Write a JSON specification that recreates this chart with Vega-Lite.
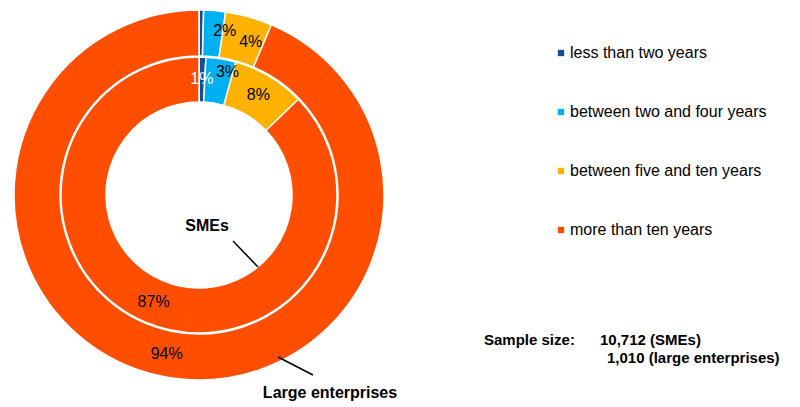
{
  "$schema": "https://vega.github.io/schema/vega-lite/v6.json",
  "width": 388,
  "height": 380,
  "padding": 5,
  "background": "white",
  "config": {"view": {"stroke": null}, "font": "Liberation Sans", "text": {"font": "Liberation Sans"}},
  "data": {
    "values": [
      {"group": "Large enterprises", "category": "less than two years", "ord": 1, "value": 0.4, "label": ""},
      {"group": "Large enterprises", "category": "between two and four years", "ord": 2, "value": 1.9, "label": "2%"},
      {"group": "Large enterprises", "category": "between five and ten years", "ord": 3, "value": 4.1, "label": "4%"},
      {"group": "Large enterprises", "category": "more than ten years", "ord": 4, "value": 93.6, "label": "94%"},
      {"group": "SMEs", "category": "less than two years", "ord": 1, "value": 0.8, "label": "1%"},
      {"group": "SMEs", "category": "between two and four years", "ord": 2, "value": 3.5, "label": "3%"},
      {"group": "SMEs", "category": "between five and ten years", "ord": 3, "value": 8.5, "label": "8%"},
      {"group": "SMEs", "category": "more than ten years", "ord": 4, "value": 87.2, "label": "87%"}
    ]
  },
  "layer": [
    {
      "transform": [{"filter": "datum.group === 'Large enterprises'"}],
      "mark": {"type": "arc", "innerRadius": 139, "outerRadius": 185, "stroke": "white", "strokeWidth": 1.5},
      "encoding": {
        "theta": {"field": "value", "type": "quantitative", "stack": true},
        "order": {"field": "ord", "type": "quantitative"},
        "color": {
          "field": "category", "type": "nominal",
          "scale": {
            "domain": ["less than two years", "between two and four years", "between five and ten years", "more than ten years"],
            "range": ["#0E4F9C", "#00B0F0", "#FFB300", "#FF4E00"]
          },
          "legend": {
            "title": null, "orient": "none", "legendX": 548, "legendY": 40, "padding": 0,
            "symbolType": "square", "symbolSize": 40, "symbolStrokeWidth": 0,
            "labelFontSize": 16, "labelFont": "Liberation Sans", "labelColor": "#000000",
            "labelOffset": 1, "rowPadding": 43, "labelLimit": 400
          }
        }
      }
    },
    {
      "transform": [{"filter": "datum.group === 'SMEs'"}],
      "mark": {"type": "arc", "innerRadius": 93, "outerRadius": 138, "stroke": "white", "strokeWidth": 1.5},
      "encoding": {
        "theta": {"field": "value", "type": "quantitative", "stack": true},
        "order": {"field": "ord", "type": "quantitative"},
        "color": {"field": "category", "type": "nominal"}
      }
    },
    {
      "transform": [{"filter": "datum.group === 'Large enterprises'"}],
      "mark": {"type": "text", "radius": 162, "fontSize": 16, "align": "center", "baseline": "middle"},
      "encoding": {
        "theta": {"field": "value", "type": "quantitative", "stack": true},
        "order": {"field": "ord", "type": "quantitative"},
        "text": {"condition": {"test": "datum.label === '94%'", "field": "label"}, "value": ""},
        "color": {"value": "#000000"}
      }
    },
    {
      "transform": [{"filter": "datum.group === 'Large enterprises'"}],
      "mark": {"type": "text", "radius": 162, "fontSize": 16, "align": "center", "baseline": "middle", "dx": 12, "dy": -3},
      "encoding": {
        "theta": {"field": "value", "type": "quantitative", "stack": true},
        "order": {"field": "ord", "type": "quantitative"},
        "text": {"condition": {"test": "datum.label === '2%'", "field": "label"}, "value": ""},
        "color": {"value": "#000000"}
      }
    },
    {
      "transform": [{"filter": "datum.group === 'Large enterprises'"}],
      "mark": {"type": "text", "radius": 162, "fontSize": 16, "align": "center", "baseline": "middle", "dx": 8, "dy": 3},
      "encoding": {
        "theta": {"field": "value", "type": "quantitative", "stack": true},
        "order": {"field": "ord", "type": "quantitative"},
        "text": {"condition": {"test": "datum.label === '4%'", "field": "label"}, "value": ""},
        "color": {"value": "#000000"}
      }
    },
    {
      "transform": [{"filter": "datum.group === 'SMEs'"}],
      "mark": {"type": "text", "radius": 116, "fontSize": 16, "align": "center", "baseline": "middle"},
      "encoding": {
        "theta": {"field": "value", "type": "quantitative", "stack": true},
        "order": {"field": "ord", "type": "quantitative"},
        "text": {"condition": {"test": "datum.label !== '3%'", "field": "label"}, "value": ""},
        "color": {"condition": {"test": "datum.category === 'less than two years'", "value": "#ffffff"}, "value": "#000000"}
      }
    },
    {
      "transform": [{"filter": "datum.group === 'SMEs'"}],
      "mark": {"type": "text", "radius": 116, "fontSize": 16, "align": "center", "baseline": "middle", "dx": 10, "dy": -8},
      "encoding": {
        "theta": {"field": "value", "type": "quantitative", "stack": true},
        "order": {"field": "ord", "type": "quantitative"},
        "text": {"condition": {"test": "datum.label === '3%'", "field": "label"}, "value": ""},
        "color": {"value": "#000000"}
      }
    },
    {
      "data": {"values": [{}]},
      "mark": {"type": "rule", "color": "#000000", "strokeWidth": 1.5},
      "encoding": {
        "x": {"datum": 228, "type": "quantitative", "scale": {"domain": [0, 388], "nice": false, "zero": false}, "axis": null},
        "y": {"datum": 236, "type": "quantitative", "scale": {"domain": [0, 380], "nice": false, "zero": false, "reverse": true}, "axis": null},
        "x2": {"datum": 253},
        "y2": {"datum": 262}
      }
    },
    {
      "data": {"values": [{}]},
      "mark": {"type": "rule", "color": "#000000", "strokeWidth": 1.5},
      "encoding": {
        "x": {"datum": 273, "type": "quantitative"},
        "y": {"datum": 352, "type": "quantitative"},
        "x2": {"datum": 308},
        "y2": {"datum": 370}
      }
    },
    {
      "data": {"values": [{}]},
      "mark": {"type": "text", "fontSize": 16, "fontWeight": "bold", "align": "center", "baseline": "middle", "color": "#000000"},
      "encoding": {
        "x": {"datum": 202, "type": "quantitative"},
        "y": {"datum": 221, "type": "quantitative"},
        "text": {"value": "SMEs"}
      }
    },
    {
      "data": {"values": [{}]},
      "mark": {"type": "text", "fontSize": 16, "fontWeight": "bold", "align": "center", "baseline": "middle", "color": "#000000"},
      "encoding": {
        "x": {"datum": 325, "type": "quantitative"},
        "y": {"datum": 388, "type": "quantitative"},
        "text": {"value": "Large enterprises"}
      }
    },
    {
      "data": {"values": [{}]},
      "mark": {"type": "text", "fontSize": 15, "fontWeight": "bold", "align": "left", "baseline": "middle", "color": "#000000"},
      "encoding": {
        "x": {"datum": 479, "type": "quantitative"},
        "y": {"datum": 335, "type": "quantitative"},
        "text": {"value": "Sample size:"}
      }
    },
    {
      "data": {"values": [{}]},
      "mark": {"type": "text", "fontSize": 15, "fontWeight": "bold", "align": "left", "baseline": "middle", "color": "#000000"},
      "encoding": {
        "x": {"datum": 595, "type": "quantitative"},
        "y": {"datum": 335, "type": "quantitative"},
        "text": {"value": "10,712 (SMEs)"}
      }
    },
    {
      "data": {"values": [{}]},
      "mark": {"type": "text", "fontSize": 15, "fontWeight": "bold", "align": "left", "baseline": "middle", "color": "#000000"},
      "encoding": {
        "x": {"datum": 602, "type": "quantitative"},
        "y": {"datum": 353, "type": "quantitative"},
        "text": {"value": "1,010 (large enterprises)"}
      }
    }
  ]
}
